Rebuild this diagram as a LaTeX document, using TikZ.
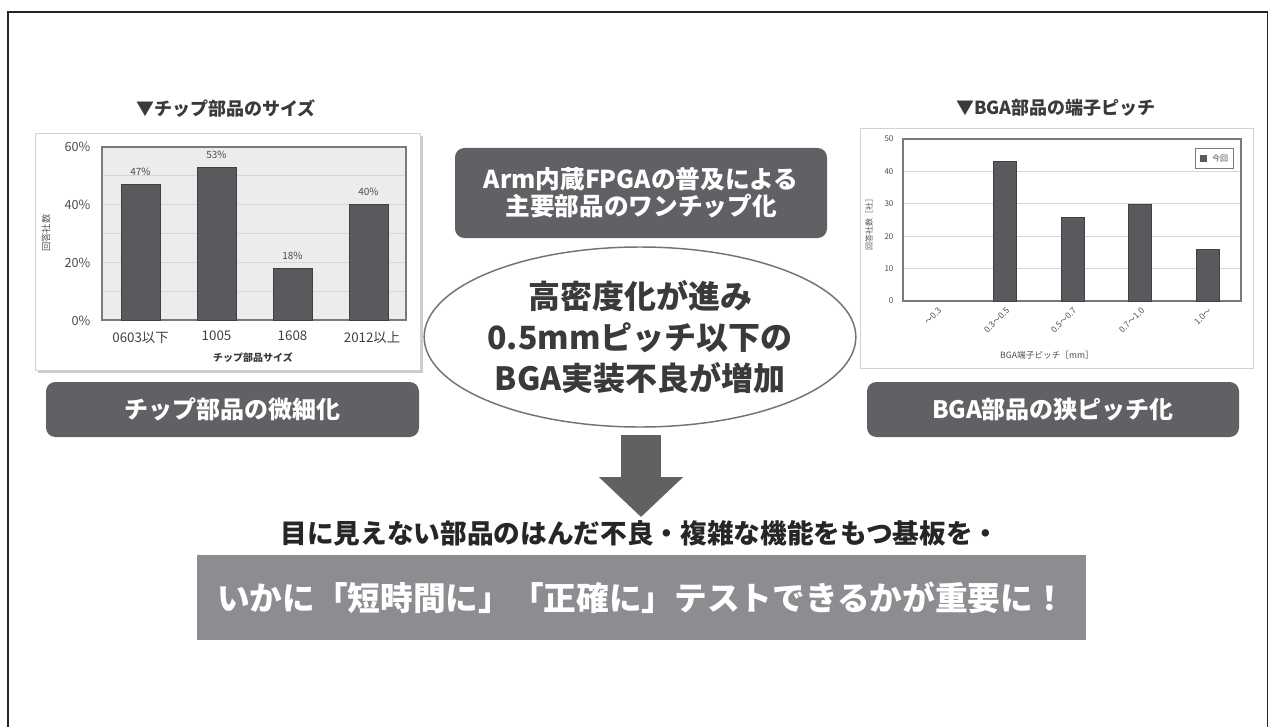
\documentclass[tikz,border=0pt]{standalone}
\usepackage{fontspec}
\setmainfont{Noto Sans CJK JP}
\usetikzlibrary{arrows.meta,shapes.geometric}
\definecolor{boxdark}{HTML}{616165}
\definecolor{bardark}{HTML}{5A5A5E}
\definecolor{boxmid}{HTML}{8D8D91}
\definecolor{txtdark}{HTML}{3A3A3A}
\definecolor{plotbg}{HTML}{ECECEC}
\definecolor{gridc}{HTML}{D6D6D6}
\definecolor{axisc}{HTML}{7A7A7A}
\tikzset{
  darkbox/.style={fill=boxdark, rounded corners=7pt, text=white, font=\bfseries\fontsize{18}{22}\selectfont, inner sep=0pt},
  chartframe/.style={draw=black!18, fill=white, line width=0.6pt},
  barc/.style={fill=bardark, draw=black!75, line width=0.4pt},
  ticklab/.style={text=black!70, font=\fontsize{9.5}{11}\selectfont, anchor=east, inner sep=1pt},
  rticklab/.style={text=black!70, font=\fontsize{6}{7}\selectfont, anchor=east, inner sep=1pt},
  barlab/.style={text=black!70, font=\fontsize{7.5}{9}\selectfont, inner sep=0pt},
  catlab/.style={text=black!75, font=\fontsize{10}{12}\selectfont, inner sep=0pt},
  rcatlab/.style={text=black!70, font=\fontsize{6.3}{7}\selectfont, anchor=east, rotate=45, inner sep=0pt},
  charttitle/.style={text=txtdark, font=\bfseries\fontsize{13.5}{16}\selectfont, inner sep=0pt},
}
\begin{document}
\begin{tikzpicture}[x=0.75pt,y=-0.75pt]
\useasboundingbox (0,0) rectangle (1269,727);
% outer frame
\draw[line width=1.2pt, black!85] (8,727) -- (8,12) -- (1267.5,12) -- (1267.5,727);

% ---------- left chart ----------
\node[charttitle] (ltitle) at (226,109) {▼チップ部品のサイズ};
\fill[black!20] (38,136) rectangle (423,373);
\draw[chartframe] (35,133) rectangle (420,370);
\fill[plotbg] (102,147) rectangle (406,320);
\foreach \k in {1,...,5} \draw[gridc, line width=0.6pt] (102,320-\k*28.83) -- (406,320-\k*28.83);
\draw[axisc, line width=0.8pt] (102,147) rectangle (406,320);
\draw[barc] (121,320) rectangle (160,184.5);
\draw[barc] (197,320) rectangle (236,167.2);
\draw[barc] (273,320) rectangle (312,268.1);
\draw[barc] (349,320) rectangle (388,204.7);
\node[barlab] (lb1) at (140.5,172) {47\%};
\node[barlab] (lb2) at (216.5,155) {53\%};
\node[barlab] (lb3) at (292.5,256) {18\%};
\node[barlab] (lb4) at (368.5,192) {40\%};
\node[ticklab] (ly60) at (92,147) {60\%};
\node[ticklab] (ly40) at (92,205) {40\%};
\node[ticklab] (ly20) at (92,263) {20\%};
\node[ticklab] (ly0) at (92,321) {0\%};
\node[catlab] (lc1) at (140.5,338) {0603以下};
\node[catlab] (lc2) at (216.5,336) {1005};
\node[catlab] (lc3) at (292.5,336) {1608};
\node[catlab] (lc4) at (372,338) {2012以上};
\node[text=txtdark, font=\bfseries\fontsize{7.5}{9}\selectfont, inner sep=0pt] (lxt) at (253,358) {チップ部品サイズ};
\node[text=black!65, font=\fontsize{7}{8}\selectfont, rotate=90, inner sep=0pt] (lyt) at (46,233) {回答社数};

% ---------- right chart ----------
\node[charttitle] (rtitle) at (1056,108) {▼BGA部品の端子ピッチ};
\draw[chartframe] (860,128) rectangle (1253,368);
\foreach \k in {1,...,4} \draw[gridc, line width=0.6pt] (903,301-\k*32.4) -- (1241,301-\k*32.4);
\draw[axisc, line width=0.8pt] (903,139) rectangle (1241,301);
\draw[barc] (993,301) rectangle (1016,161.7);
\draw[barc] (1061,301) rectangle (1084,216.8);
\draw[barc] (1128,301) rectangle (1151,203.8);
\draw[barc] (1196,301) rectangle (1219,249.2);
\node[rticklab] (ry50) at (895,139) {50};
\node[rticklab] (ry40) at (895,172) {40};
\node[rticklab] (ry30) at (895,204) {30};
\node[rticklab] (ry20) at (895,237) {20};
\node[rticklab] (ry10) at (895,269) {10};
\node[rticklab] (ry0) at (895,301) {0};
\node[rcatlab] (rc1) at (940,309) {～0.3};
\node[rcatlab] (rc2) at (1008,309) {0.3～0.5};
\node[rcatlab] (rc3) at (1075,309) {0.5～0.7};
\node[rcatlab] (rc4) at (1143,309) {0.7～1.0};
\node[rcatlab] (rc5) at (1210,309) {1.0～};
\node[text=black!70, font=\fontsize{6.5}{7}\selectfont, inner sep=0pt] (rxt) at (1047,355) {BGA端子ピッチ［mm］};
\node[text=black!65, font=\fontsize{6}{7}\selectfont, rotate=90, inner sep=0pt] (ryt) at (869,222) {回答社数［社］};
\draw[axisc, fill=white, line width=0.6pt] (1195,148) rectangle (1233,168);
\fill[bardark] (1200,155) rectangle (1207,162);
\node[text=black!70, font=\fontsize{6}{7}\selectfont, inner sep=0pt] (rleg) at (1220,158) {今回};

% ---------- label boxes ----------
\path[darkbox] (46,382) rectangle (419,437);
\node[text=white, font=\bfseries\fontsize{18}{22}\selectfont, inner sep=0pt] (lbox) at (232.5,409.5) {チップ部品の微細化};
\path[darkbox] (867,382) rectangle (1239,437);
\node[text=white, font=\bfseries\fontsize{18}{22}\selectfont, inner sep=0pt] (rbox) at (1053,409.5) {BGA部品の狭ピッチ化};
\path[darkbox] (455,148) rectangle (827,238);
\node[text=white, font=\bfseries\fontsize{18.5}{20.5}\selectfont, inner sep=0pt, align=center] (cbox) at (641,193) {Arm内蔵FPGAの普及による\\主要部品のワンチップ化};

% ---------- ellipse ----------
\node[ellipse, draw=black!55, line width=1.1pt, fill=white, minimum width=396*0.75pt, minimum height=180*0.75pt, inner sep=0pt, text=txtdark, font=\bfseries\fontsize{24}{31}\selectfont, align=center] (ell) at (640,337) {高密度化が進み\\0.5mmピッチ以下の\\BGA実装不良が増加};

% ---------- arrow ----------
\coordinate (atop) at (641,435);
\coordinate (atip) at (641,517);
\draw[draw=black!62, line width=29.5pt, -{Triangle[width=61.5pt,length=30pt]}] (atop) -- (atip);

% ---------- bottom texts ----------
\node[text=black!85, font=\bfseries\fontsize{20}{24}\selectfont, inner sep=0pt] (msg) at (640,533) {目に見えない部品のはんだ不良・複雑な機能をもつ基板を・};
\node[fill=boxmid, minimum width=889*0.75pt, minimum height=85*0.75pt, inner sep=0pt, text=white, font=\bfseries\fontsize{24.5}{28}\selectfont] (final) at (641.5,597.5) {いかに「短時間に」「正確に」テストできるかが重要に！};
\end{tikzpicture}
\end{document}
